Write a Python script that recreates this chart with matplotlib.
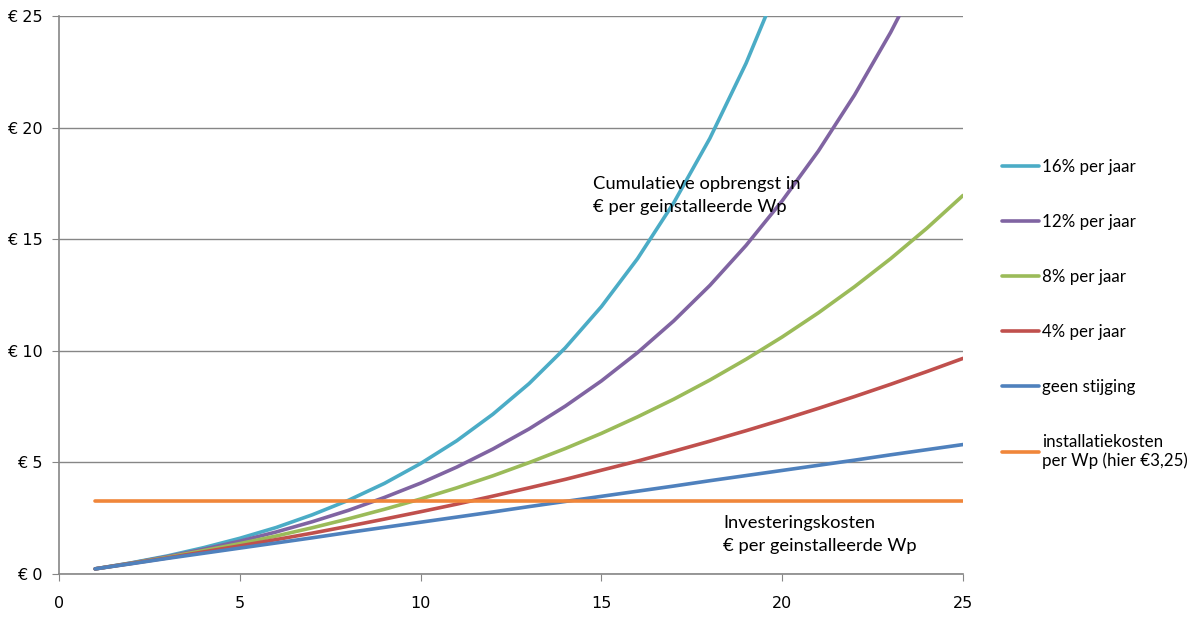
import numpy as np
import matplotlib
matplotlib.use("Agg")
import matplotlib.pyplot as plt

# years
years = list(range(1, 26))

# cumulative yield in euro per installed Wp
geen_stijging = [0.23, 0.46, 0.70, 0.93, 1.16, 1.39, 1.62, 1.86, 2.09, 2.32,
                 2.55, 2.78, 3.02, 3.25, 3.48, 3.71, 3.94, 4.18, 4.41, 4.64,
                 4.87, 5.10, 5.34, 5.57, 5.80]
pct4 = [0.23, 0.47, 0.72, 0.99, 1.26, 1.54, 1.83, 2.14, 2.46, 2.79,
        3.13, 3.49, 3.86, 4.24, 4.65, 5.06, 5.50, 5.95, 6.42, 6.91,
        7.42, 7.95, 8.50, 9.07, 9.66]
pct8 = [0.23, 0.48, 0.75, 1.05, 1.36, 1.70, 2.07, 2.47, 2.90, 3.36,
        3.86, 4.40, 4.99, 5.62, 6.30, 7.04, 7.83, 8.69, 9.62, 10.62,
        11.70, 12.87, 14.13, 15.49, 16.96]
pct12 = [0.23, 0.49, 0.78, 1.11, 1.47, 1.88, 2.34, 2.85, 3.43, 4.07,
         4.79, 5.60, 6.50, 7.52, 8.65, 9.92, 11.34, 12.93, 14.72, 16.72,
         18.95, 21.46, 24.27, 27.41, 30.93]
pct16 = [0.23, 0.50, 0.81, 1.18, 1.60, 2.08, 2.65, 3.30, 4.06, 4.95,
         5.97, 7.16, 8.53, 10.13, 11.98, 14.13, 16.63, 19.52, 22.88, 26.77,
         31.28]
installatiekosten = [3.25] * 25

series = [
    ("16% per jaar", years[:len(pct16)], pct16, "#4BACC6"),
    ("12% per jaar", years, pct12, "#8064A2"),
    ("8% per jaar", years, pct8, "#9BBB59"),
    ("4% per jaar", years, pct4, "#C0504D"),
    ("geen stijging", years, geen_stijging, "#4F81BD"),
    ("installatiekosten\nper Wp (hier €3,25)", years, installatiekosten, "#F0863A"),
]

fig = plt.figure(figsize=(11.9, 6.17), dpi=100)
ax = fig.add_axes([59 / 1190, 1 - 574 / 617, (963 - 59) / 1190, (574 - 16) / 617])

for label, x, y, color in series:
    ax.plot(x, y, color=color, lw=2.6, label=label, solid_capstyle="round")

ax.set_xlim(0, 25)
ax.set_ylim(0, 25)
ax.set_xticks(range(0, 26, 5))
ax.set_yticks(range(0, 26, 5))
ax.set_yticklabels([f"€ {v}" for v in range(0, 26, 5)])
ax.grid(axis="y", color="#868686", lw=1)
ax.set_axisbelow(True)
for side in ("top", "right"):
    ax.spines[side].set_visible(False)
for side in ("left", "bottom"):
    ax.spines[side].set_color("#868686")
    ax.spines[side].set_linewidth(1.2)
ax.tick_params(direction="out", length=5, color="#868686", labelsize=11.5)
ax.tick_params(axis="x", pad=11)
ax.tick_params(axis="y", pad=7)

ax.text(14.77, 17.85, "Cumulatieve opbrengst in\n€ per geinstalleerde Wp",
        family="Lato", fontsize=13.2, va="top", ha="left", linespacing=1.55)
ax.text(18.36, 2.65, "Investeringskosten\n€ per geinstalleerde Wp",
        family="Lato", fontsize=13.2, va="top", ha="left", linespacing=1.55)

handles, labels = ax.get_legend_handles_labels()
fig.legend(handles, labels, loc="upper left", bbox_to_anchor=(987 / 1190, 1 - 144 / 617),
           frameon=False, prop={"family": "Lato", "size": 12.2},
           handlelength=2.15, handletextpad=0.2, labelspacing=2.3)

fig.savefig("out.png", dpi=100)
